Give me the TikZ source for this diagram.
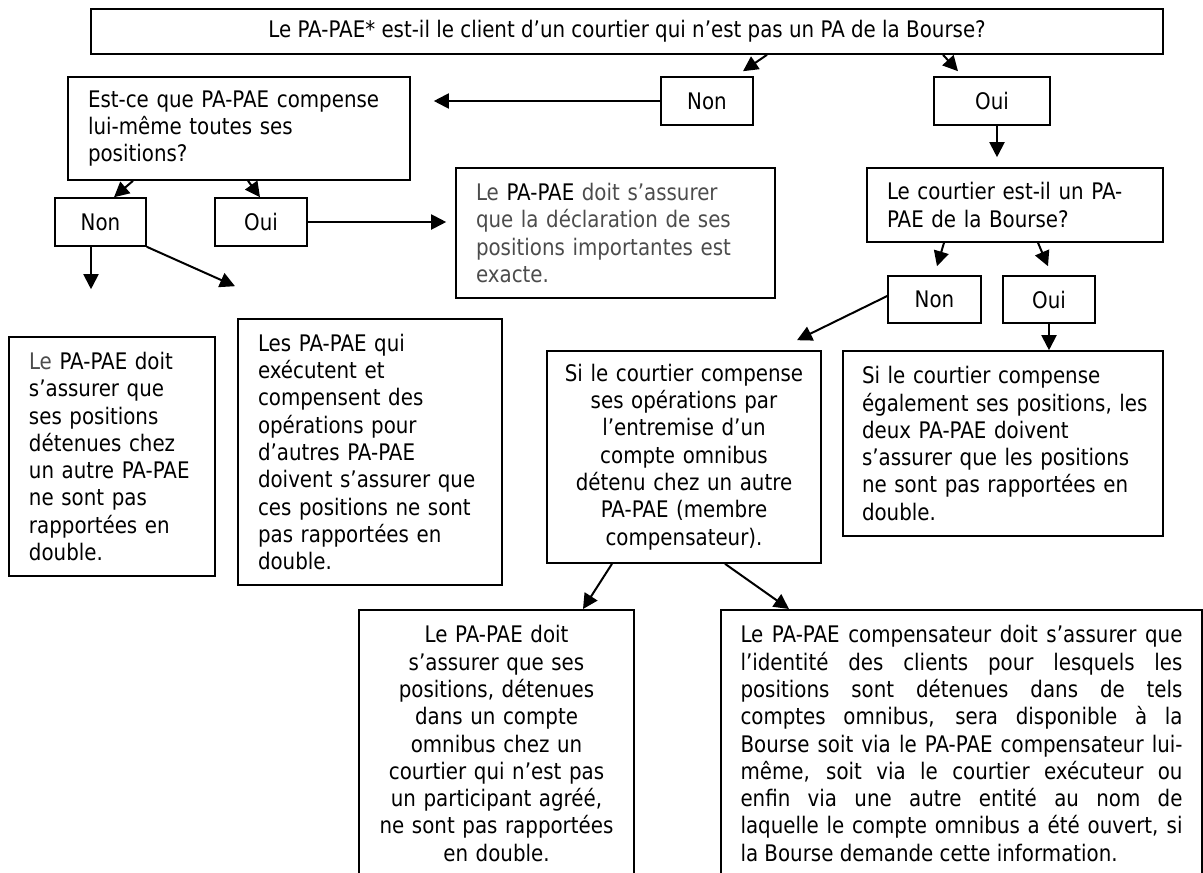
\documentclass[tikz,border=0pt]{standalone}
\usepackage{fontspec}
\setmainfont{DejaVu Sans}[FakeStretch=0.87]
\usetikzlibrary{arrows.meta}
\definecolor{gtext}{gray}{0.3}
\hyphenpenalty=10000
\exhyphenpenalty=10000

\begin{document}
\begin{tikzpicture}[x=1pt, y=-1pt,
    box/.style={draw, line width=1.6pt, inner xsep=20pt, inner ysep=0pt,
      font=\fontsize{22.8pt}{27.3pt}\selectfont},
    ans/.style={box, minimum height=48pt},
    arr/.style={line width=2pt, -{Triangle[length=15pt, width=15pt]}}]
  \useasboundingbox (0,0) rectangle (1203,873);
  % Questions (centres given in pixels, y runs downwards).
  \node[box, minimum width=1072pt, minimum height=45pt] (qtop) at (627,31.5)
    {Le PA-PAE* est-il le client d’un courtier qui n’est pas un PA de la Bourse?};
  \node[box, align=left, text width=302pt, minimum height=103pt] (qself) at (239,128.5)
    {Est-ce que PA-PAE compense\\ lui-même toutes ses\\ positions?};
  \node[box, align=left, text width=256pt, minimum height=74pt] (qbrok) at (1015,205)
    {Le courtier est-il un PA-\\ PAE de la Bourse?};
  \node[box, align=center, inner xsep=10pt, text width=254pt, minimum height=212pt] (qomni) at (684,457)
    {Si le courtier compense\\ ses opérations par\\ l’entremise d’un\\ compte omnibus\\
     détenu chez un autre\\ PA-PAE (membre\\ compensateur).};
  % Answers.
  \node[ans, minimum width=92pt] (nonA) at (707,101) {Non};
  \node[ans, minimum width=116pt] (ouiA) at (992,101) {Oui};
  \node[ans, minimum width=91pt] (nonB) at (100.5,222) {Non};
  \node[ans, minimum width=92pt] (ouiB) at (261,222) {Oui};
  \node[ans, minimum width=93pt, minimum height=47pt] (nonC) at (934.5,299.5) {Non};
  \node[ans, minimum width=92pt, minimum height=47pt] (ouiC) at (1049,299.5) {Oui};
  % Outcomes.
  \node[box, align=left, text width=279pt, minimum height=130pt, text=gtext] (rdecl) at (615.5,233)
    {Le \textcolor{black}{PA-PAE} doit s’assurer\\ que la déclaration de ses\\
     positions importantes est\\ exacte.};
  \node[box, align=left, text width=166pt, minimum height=239pt] (rheld) at (112,456.5)
    {\textcolor{gtext}{Le} PA-PAE doit\\ s’assurer que\\ ses positions\\ détenues chez\\
     un autre PA-PAE\\ ne sont pas\\ rapportées en\\ double.};
  \node[box, align=left, text width=224pt, minimum height=266pt] (rexec) at (370,452)
    {Les PA-PAE qui\\ exécutent et\\ compensent des\\ opérations pour\\ d’autres PA-PAE\\
     doivent s’assurer que\\ ces positions ne sont\\ pas rapportées en\\ double.};
  \node[box, align=left, inner xsep=19pt, text width=282pt, minimum height=185pt] (rboth) at (1003,443.5)
    {Si le courtier compense\\ \mbox{également ses positions, les}\\ deux PA-PAE doivent\\
     s’assurer que les positions\\ ne sont pas rapportées en\\ double.};
  % The two lowest boxes run off the bottom of the page.
  \node[box, anchor=north, align=center, inner xsep=10pt, inner ysep=15.7pt, text depth=240pt,
    text width=255pt] (rdup) at (496.5,609)
    {Le PA-PAE doit\\ s’assurer que ses\\ positions, détenues\\ dans un compte\\ omnibus chez un\\
     courtier qui n’est pas\\ un participant agréé,\\ ne sont pas rapportées\\ en double.};
  \node[box, anchor=north, align=justify, inner xsep=19.5pt, inner ysep=15.7pt, text depth=240pt,
    text width=442pt] (rident) at (961.5,609)
    {Le PA-PAE compensateur doit s’assurer que\linebreak
     l’identité des clients pour lesquels les\linebreak
     positions sont détenues dans de tels\linebreak
     comptes omnibus, sera disponible à la\linebreak
     Bourse soit via le PA-PAE compensateur lui-\linebreak
     même, soit via le courtier exécuteur ou\linebreak
     enfin via une autre entité au nom de\linebreak
     laquelle le compte omnibus a été ouvert, si\linebreak
     la Bourse demande cette information.};
  % Arrows.
  \draw[arr] ([xshift=140pt]qtop.south) -- ([xshift=36pt,yshift=5pt]nonA.north);
  \draw[arr] ([xshift=316pt]qtop.south) -- ([xshift=-34pt,yshift=5pt]ouiA.north);
  \draw[arr] (nonA.west) -- ([xshift=23pt,yshift=27.5pt]qself.east);
  \draw[arr] ([xshift=-106pt]qself.south) -- ([xshift=13.5pt]nonB.north);
  \draw[arr] ([xshift=9pt]qself.south) -- ([xshift=-1pt]ouiB.north);
  \draw[arr] (ouiB.east) -- ([xshift=-9pt,yshift=11pt]rdecl.west);
  \draw[arr] ([xshift=-9.5pt]nonB.south) -- ([xshift=-21pt,yshift=47pt]rheld.north);
  \draw[arr] (nonB.south east) -- ([xshift=-135pt,yshift=32pt]rexec.north);
  \draw[arr] ([xshift=5pt]ouiA.south) -- ([xshift=-18pt,yshift=10pt]qbrok.north);
  \draw[arr] ([xshift=-71pt]qbrok.south) -- ([xshift=2.5pt,yshift=9pt]nonC.north);
  \draw[arr] ([xshift=23pt]qbrok.south) -- ([xshift=-1pt,yshift=9pt]ouiC.north);
  \draw[arr] ([yshift=3.5pt]nonC.west) -- ([xshift=113pt,yshift=10pt]qomni.north);
  \draw[arr] (ouiC.south) -- ([xshift=46pt]rboth.north);
  \draw[arr] ([xshift=-72pt]qomni.south) -- ([xshift=86.5pt]rdup.north);
  \draw[arr] ([xshift=41pt]qomni.south) -- ([xshift=-172.5pt]rident.north);
\end{tikzpicture}
\end{document}
